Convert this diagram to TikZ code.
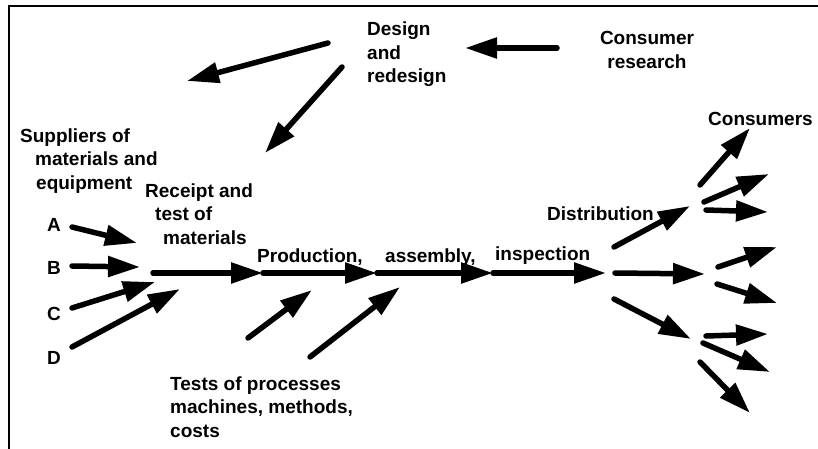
\documentclass[tikz,border=0pt]{standalone}
\usepackage{fontspec}
\setmainfont{Liberation Sans}
\usetikzlibrary{arrows.meta}

\begin{document}
\begin{tikzpicture}[x=1pt, y=-1pt,
	lbl/.style={font=\bfseries\fontsize{19}{23.5}\selectfont, inner sep=0pt, anchor=base west, align=left},
	flow/.style={line width=5.5pt, line cap=round, -{Triangle[length=32pt, width=20pt]}}]
	\useasboundingbox (0,0) rectangle (818,449);
	\draw[line width=2pt] (9,449) -- (9,6) -- (818,6);

	% texts (base = last line)
	\node[lbl] (design)       at (367,83)  {Design\\and\\redesign};
	\node[lbl, align=center, anchor=base] (research) at (647,68.5) {Consumer\\research};
	\node[lbl] (suppliers)    at (20,189)  {Suppliers of\\\hspace*{15pt}materials and\\\hspace*{16pt}equipment};
	\node[lbl] (receipt)      at (145,244) {Receipt and\\\hspace*{10pt}test of\\\hspace*{18pt}materials};
	\node[lbl] (production)   at (257,262) {Production,};
	\node[lbl] (assembly)     at (385,262) {assembly,};
	\node[lbl] (inspection)   at (495,260) {inspection};
	\node[lbl] (tests)        at (170,437) {Tests of processes\\machines, methods,\\costs};
	\node[lbl] (distribution) at (547,220) {Distribution};
	\node[lbl] (consumers)    at (708,126) {Consumers};
	\node[lbl] (supA) at (47,231) {A};
	\node[lbl] (supB) at (47,274) {B};
	\node[lbl] (supC) at (47,320) {C};
	\node[lbl] (supD) at (47,364) {D};

	% main line
	\coordinate (m0) at (153,273);
	\coordinate (m1) at (263,273);
	\coordinate (m2) at (377,273);
	\coordinate (m3) at (493,273);
	\coordinate (m4) at (606,273);
	\draw[flow] (m0) -- (m1);
	\draw[flow] (m1) -- (m2);
	\draw[flow] (m2) -- (m3);
	\draw[flow] (m3) -- (m4);

	% design loop
	\coordinate (r0) at (557,48);  \coordinate (r1) at (465,48);
	\coordinate (d0) at (328,43);  \coordinate (d1) at (187,81);
	\coordinate (e0) at (342,67);  \coordinate (e1) at (265,153);
	\draw[flow] (r0) -- (r1);
	\draw[flow] (d0) -- (d1);
	\draw[flow] (e0) -- (e1);

	% suppliers
	\coordinate (a0) at (72,227);  \coordinate (a1) at (137,243);
	\coordinate (b0) at (72,266);  \coordinate (b1) at (140,267);
	\coordinate (c0) at (72,308);  \coordinate (c1) at (155,282);
	\coordinate (dd0) at (72,347); \coordinate (dd1) at (180,289);
	\draw[flow] (a0) -- (a1);
	\draw[flow] (b0) -- (b1);
	\draw[flow] (c0) -- (c1);
	\draw[flow] (dd0) -- (dd1);

	% tests
	\coordinate (t0) at (248,338); \coordinate (t1) at (312,290);
	\coordinate (s0) at (310,357); \coordinate (s1) at (400,287);
	\draw[flow] (t0) -- (t1);
	\draw[flow] (s0) -- (s1);

	% distribution fan
	\coordinate (f0) at (614,247); \coordinate (f1) at (690,206);
	\coordinate (g0) at (615,273); \coordinate (g1) at (705,274);
	\coordinate (h0) at (614,299); \coordinate (h1) at (691,339);
	\draw[flow] (f0) -- (f1);
	\draw[flow] (g0) -- (g1);
	\draw[flow] (h0) -- (h1);

	% to consumers
	\coordinate (u0) at (700,185); \coordinate (u1) at (750,128);
	\coordinate (v0) at (704,202); \coordinate (v1) at (769,174);
	\coordinate (w0) at (706,210); \coordinate (w1) at (768,212);
	\coordinate (p0) at (718,267); \coordinate (p1) at (777,247);
	\coordinate (q0) at (717,284); \coordinate (q1) at (777,303);
	\coordinate (k0) at (706,336); \coordinate (k1) at (768,334);
	\coordinate (l0) at (703,343); \coordinate (l1) at (770,372);
	\coordinate (n0) at (700,362); \coordinate (n1) at (750,413);
	\draw[flow] (u0) -- (u1);
	\draw[flow] (v0) -- (v1);
	\draw[flow] (w0) -- (w1);
	\draw[flow] (p0) -- (p1);
	\draw[flow] (q0) -- (q1);
	\draw[flow] (k0) -- (k1);
	\draw[flow] (l0) -- (l1);
	\draw[flow] (n0) -- (n1);
\end{tikzpicture}
\end{document}
